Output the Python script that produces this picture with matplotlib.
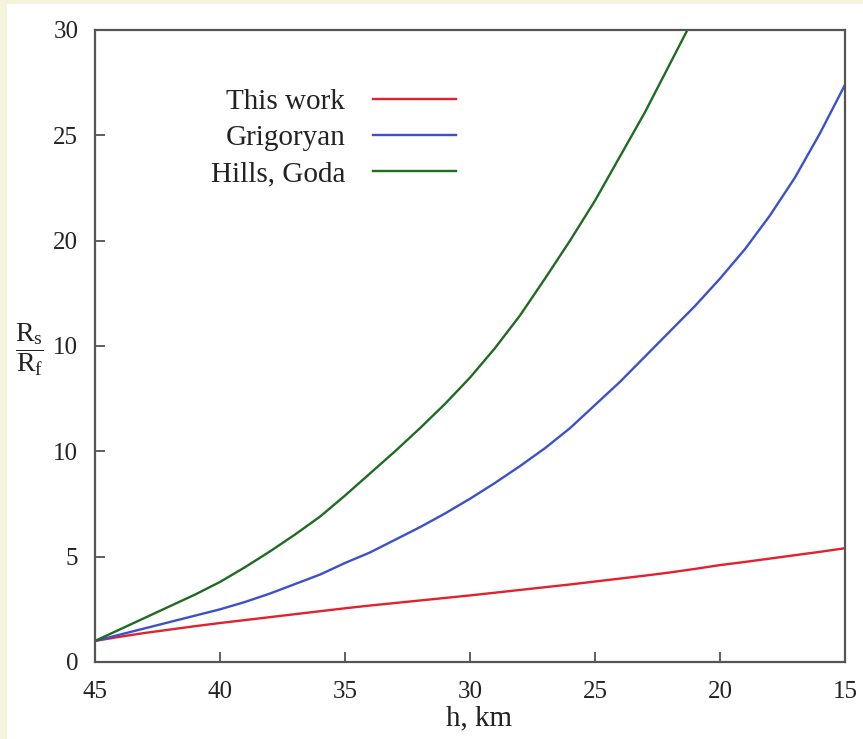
import matplotlib
matplotlib.use("Agg")
import matplotlib.pyplot as plt
from matplotlib.patches import Rectangle

# --- data (h in km, ratio Rs/Rf) ---
h_km = [45, 44, 43, 42, 41, 40, 39, 38, 37, 36, 35, 34, 33, 32, 31, 30,
        29, 28, 27, 26, 25, 24, 23, 22, 21, 20, 19, 18, 17, 16, 15]
this_work = [1.00, 1.20, 1.38, 1.54, 1.70, 1.85, 1.99, 2.13, 2.27, 2.41, 2.55,
             2.68, 2.80, 2.92, 3.04, 3.16, 3.29, 3.42, 3.55, 3.68, 3.82, 3.96,
             4.10, 4.25, 4.42, 4.60, 4.75, 4.91, 5.07, 5.23, 5.40]
grigoryan = [1.0, 1.3, 1.6, 1.9, 2.2, 2.5, 2.85, 3.25, 3.7, 4.15, 4.7, 5.2,
             5.8, 6.4, 7.05, 7.75, 8.5, 9.3, 10.15, 11.1, 12.2, 13.3, 14.5,
             15.7, 16.9, 18.2, 19.6, 21.2, 23.0, 25.1, 27.4]
h_hills = [45, 44, 43, 42, 41, 40, 39, 38, 37, 36, 35, 34, 33, 32, 31, 30,
           29, 28, 27, 26, 25, 24, 23, 22, 21, 20]
hills_goda = [1.0, 1.55, 2.1, 2.65, 3.2, 3.8, 4.5, 5.25, 6.05, 6.9, 7.9, 8.95,
              10.0, 11.1, 12.25, 13.5, 14.9, 16.45, 18.2, 20.0, 21.9, 24.0,
              26.1, 28.4, 30.7, 33.0]

x_ticks = [45, 40, 35, 30, 25, 20, 15]
y_ticks = [0, 5, 10, 15, 20, 25, 30]
y_tick_labels = ["0", "5", "10", "10", "20", "25", "30"]

plt.rcParams["font.family"] = ["Liberation Serif", "DejaVu Serif"]
plt.rcParams["mathtext.fontset"] = "custom"
plt.rcParams["mathtext.rm"] = "Liberation Serif"
plt.rcParams["mathtext.it"] = "Liberation Serif:italic"

fig = plt.figure(figsize=(8.63, 7.39), dpi=100, facecolor="white")
# pale border strips on the left and top
fig.patches.append(Rectangle((0, 0), 7 / 863, 1, transform=fig.transFigure,
                             facecolor="#f5f3dc", edgecolor="none", zorder=0))
fig.patches.append(Rectangle((0, 1 - 4 / 739), 1, 4 / 739, transform=fig.transFigure,
                             facecolor="#f5f3dc", edgecolor="none", zorder=0))

ax = fig.add_axes([95 / 863, 1 - 662 / 739, 750 / 863, 632 / 739])

ax.plot(h_km, this_work, color="#e3202c", lw=1.7, label="This work")
ax.plot(h_km, grigoryan, color="#3b50cc", lw=1.7, label="Grigoryan")
ax.plot(h_hills, hills_goda, color="#1e6b22", lw=1.7, label="Hills, Goda")

ax.set_xlim(45, 15)
ax.set_ylim(0, 30)
ax.set_xticks(x_ticks)
ax.set_yticks(y_ticks)
ax.set_yticklabels(y_tick_labels)
ax.tick_params(direction="in", length=7, width=1.2, color="#444444",
               labelsize=18, labelcolor="#222222")
ax.tick_params(axis="y", pad=12)
ax.tick_params(axis="x", pad=14)
for s in ax.spines.values():
    s.set_color("#555555")
    s.set_linewidth(1.6)

ax.set_xlabel("h, km", fontsize=21, color="#222222")
ax.xaxis.set_label_coords(0.512, -0.068)
fig.text(29 / 863, 1 - 350 / 739, r"$\dfrac{\mathrm{R_s}}{\mathrm{R_f}}$",
         fontsize=20, color="#222222", ha="center", va="center")

leg = ax.legend(loc="upper right", bbox_to_anchor=(456 / 863, 1 - 89 / 739),
                bbox_transform=fig.transFigure, frameon=False, markerfirst=False,
                fontsize=21, handlelength=2.85, handletextpad=0.95,
                labelspacing=0.32, borderpad=0, borderaxespad=0)
for col in leg._legend_handle_box.get_children():
    col.align = "right"
for t in leg.get_texts():
    t.set_color("#222222")

fig.savefig("out.png", dpi=100, facecolor=fig.get_facecolor())
